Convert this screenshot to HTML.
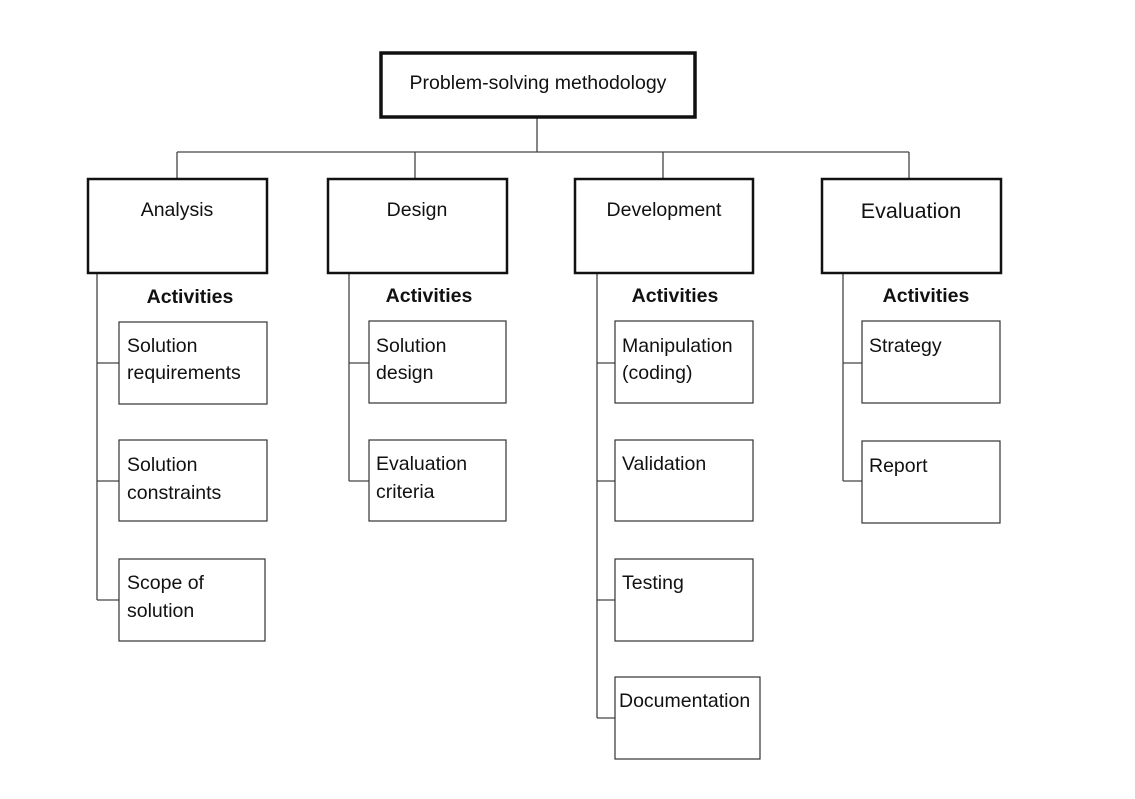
<!DOCTYPE html>
<html><head><style>
html,body{margin:0;padding:0;background:#fff;}
svg text{font-family:"Liberation Sans",sans-serif;fill:#111;}
</style></head><body>
<svg width="1135" height="794" viewBox="0 0 1135 794" xmlns="http://www.w3.org/2000/svg">
<g fill="none" stroke="#444" stroke-width="1.3">
<path d="M537 118V152M177 152H909M177 152V178M415 152V178M663 152V178M909 152V178"/>
<path d="M97 273V600M97 363H119M97 481H119M97 600H119"/>
<path d="M349 273V481M349 363H369M349 481H369"/>
<path d="M597 273V718M597 363H615M597 481H615M597 600H615M597 718H615"/>
<path d="M843 273V481M843 363H862M843 481H862"/>
</g>
<g fill="#fff" stroke="#111">
<rect x="381" y="53" width="314" height="64" stroke-width="3.5"/>
<rect x="88" y="179" width="179" height="94" stroke-width="2.5"/>
<rect x="328" y="179" width="179" height="94" stroke-width="2.5"/>
<rect x="575" y="179" width="178" height="94" stroke-width="2.5"/>
<rect x="822" y="179" width="179" height="94" stroke-width="2.5"/>
</g>
<g fill="#fff" stroke="#333" stroke-width="1.2">
<rect x="119" y="322" width="148" height="82"/>
<rect x="119" y="440" width="148" height="81"/>
<rect x="119" y="559" width="146" height="82"/>
<rect x="369" y="321" width="137" height="82"/>
<rect x="369" y="440" width="137" height="81"/>
<rect x="615" y="321" width="138" height="82"/>
<rect x="615" y="440" width="138" height="81"/>
<rect x="615" y="559" width="138" height="82"/>
<rect x="615" y="677" width="145" height="82"/>
<rect x="862" y="321" width="138" height="82"/>
<rect x="862" y="441" width="138" height="82"/>
</g>
<g font-size="19.5">
<text x="538" y="89" text-anchor="middle">Problem-solving methodology</text>
<text x="177" y="216" text-anchor="middle">Analysis</text>
<text x="417" y="216" text-anchor="middle">Design</text>
<text x="664" y="216" text-anchor="middle">Development</text>
<text x="911" y="218" text-anchor="middle" font-size="21.5">Evaluation</text>
</g>
<g font-size="19.5" font-weight="bold" text-anchor="middle">
<text x="190" y="303">Activities</text>
<text x="429" y="302">Activities</text>
<text x="675" y="302">Activities</text>
<text x="926" y="302">Activities</text>
</g>
<g font-size="19.5">
<text x="127" y="352">Solution</text><text x="127" y="379">requirements</text>
<text x="127" y="471">Solution</text><text x="127" y="499">constraints</text>
<text x="127" y="589">Scope of</text><text x="127" y="617">solution</text>
<text x="376" y="352">Solution</text><text x="376" y="379">design</text>
<text x="376" y="470">Evaluation</text><text x="376" y="498">criteria</text>
<text x="622" y="352">Manipulation</text><text x="622" y="379">(coding)</text>
<text x="622" y="470">Validation</text>
<text x="622" y="589">Testing</text>
<text x="619" y="707">Documentation</text>
<text x="869" y="352">Strategy</text>
<text x="869" y="472">Report</text>
</g>
</svg>
</body></html>
